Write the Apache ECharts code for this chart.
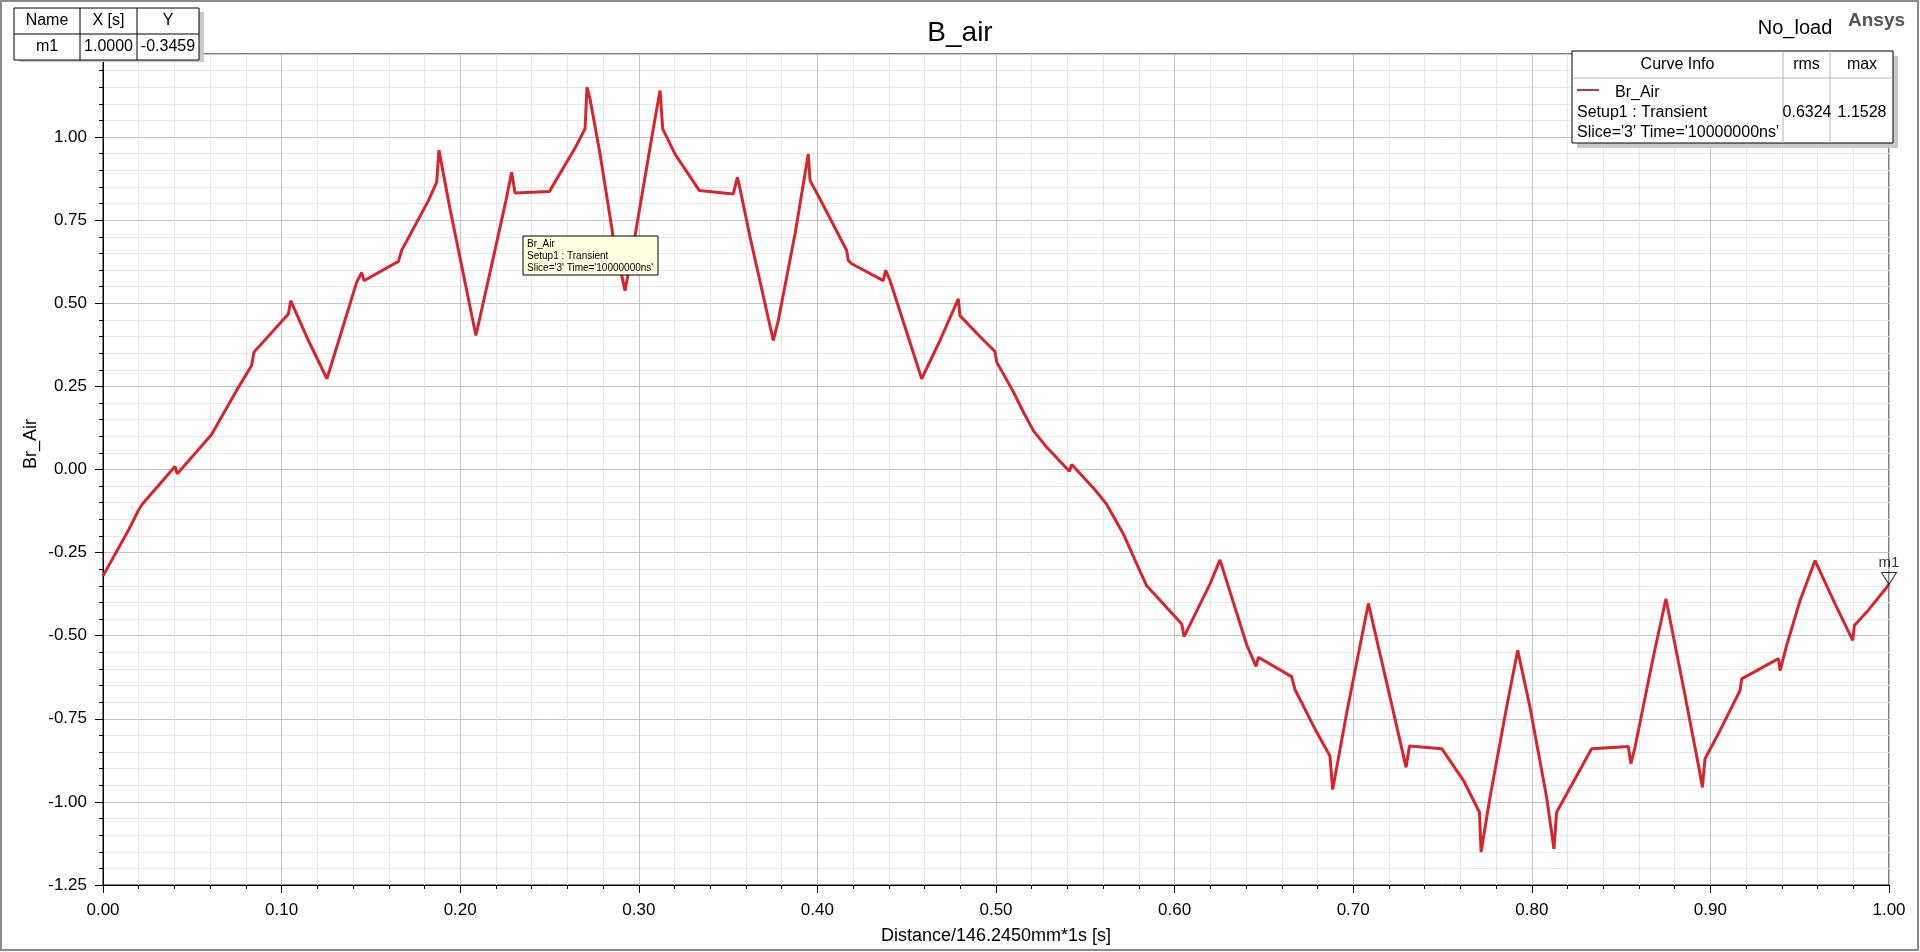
<!DOCTYPE html>
<html>
<head>
<meta charset="utf-8">
<title>B_air</title>
<script src="https://cdn.jsdelivr.net/npm/echarts@6/dist/echarts.min.js"></script>
<style>
  html, body { margin: 0; padding: 0; background: #fff; }
  #chart { width: 1920px; height: 952px; }
</style>
</head>
<body>
<div id="chart"></div>
<script>
// Br_Air curve
const distX = [0, 0.0147, 0.0203, 0.0222, 0.0403, 0.0416, 0.0608, 0.0748, 0.0832, 0.0845, 0.0879,
  0.1038, 0.1051, 0.1150, 0.1254, 0.1420, 0.1448, 0.1461, 0.1654, 0.1672, 0.1822, 0.1868, 0.1881,
  0.1943, 0.2088, 0.2186, 0.2256, 0.2288, 0.2307, 0.2499, 0.2643, 0.2699, 0.2710, 0.2727, 0.2783,
  0.2857, 0.2923, 0.2979, 0.3081, 0.3119, 0.3134, 0.3203, 0.3339, 0.3529, 0.3552, 0.3567, 0.3623,
  0.3753, 0.3781, 0.3875, 0.3949, 0.3959, 0.4024, 0.4164, 0.4173, 0.4192, 0.4369, 0.4382, 0.4407,
  0.4584, 0.4686, 0.4789, 0.4798, 0.4910, 0.4994, 0.5004, 0.5097, 0.5153, 0.5209, 0.5284, 0.5411,
  0.5424, 0.5554, 0.5620, 0.5713, 0.5806, 0.5844, 0.6040, 0.6053, 0.6198, 0.6254, 0.6404, 0.6456,
  0.6469, 0.6655, 0.6674, 0.6795, 0.6870, 0.6885, 0.6963, 0.7085, 0.7225, 0.7296, 0.7315, 0.7496,
  0.7617, 0.7707, 0.7716, 0.7766, 0.7859, 0.7921, 0.7990, 0.8083, 0.8124, 0.8139, 0.8195, 0.8335,
  0.8540, 0.8555, 0.8578, 0.8680, 0.8751, 0.8849, 0.8942, 0.8955, 0.8970, 0.9054, 0.9166, 0.9175,
  0.9381, 0.9390, 0.9427, 0.9502, 0.9586, 0.9698, 0.9797, 0.9806, 0.9875, 1.0];
const brAir = [-0.320, -0.178, -0.118, -0.103, 0.009, -0.013, 0.105, 0.238, 0.313, 0.353, 0.373,
  0.468, 0.508, 0.388, 0.273, 0.563, 0.593, 0.568, 0.626, 0.659, 0.809, 0.864, 0.961,
  0.784, 0.403, 0.639, 0.809, 0.894, 0.832, 0.836, 0.967, 1.025, 1.150, 1.115, 0.949,
  0.699, 0.538, 0.704, 1.025, 1.140, 1.025, 0.949, 0.839, 0.829, 0.879, 0.844, 0.699,
  0.388, 0.448, 0.709, 0.949, 0.869, 0.804, 0.659, 0.629, 0.619, 0.568, 0.599, 0.568,
  0.273, 0.388, 0.513, 0.463, 0.400, 0.355, 0.323, 0.234, 0.173, 0.117, 0.067, -0.005,
  0.015, -0.061, -0.105, -0.194, -0.306, -0.350, -0.465, -0.503, -0.345, -0.272, -0.528, -0.592,
  -0.565, -0.623, -0.662, -0.790, -0.862, -0.963, -0.734, -0.403, -0.729, -0.896, -0.832, -0.840,
  -0.935, -1.031, -1.151, -0.986, -0.715, -0.544, -0.715, -0.986, -1.141, -1.031, -0.976, -0.840,
  -0.833, -0.885, -0.835, -0.565, -0.389, -0.655, -0.915, -0.956, -0.870, -0.785, -0.665, -0.630,
  -0.569, -0.605, -0.529, -0.394, -0.274, -0.404, -0.514, -0.469, -0.429, -0.3459];

// marker m1
const markerX = [1.0];
const markerY = [-0.3459];

// curve info values
const rmsVal = '0.6324';
const maxVal = '1.1528';

const font = '"Liberation Sans", Arial, sans-serif';

const chart = echarts.init(document.getElementById('chart'));

function txt(x, y, text, size, align, extra) {
    return Object.assign({
        type: 'text', x: x, y: y, z: 100,
        style: {text: text, fontSize: size, fontFamily: font, fill: '#000', align: align || 'left', verticalAlign: 'middle'}
    }, extra || {});
}
function line(x1, y1, x2, y2, color, w) {
    return {type: 'line', z: 100, shape: {x1: x1, y1: y1, x2: x2, y2: y2}, style: {stroke: color, lineWidth: w || 1}};
}
function box(x, y, w, h, fill, stroke) {
    return {type: 'rect', z: 100, shape: {x: x, y: y, width: w, height: h}, style: {fill: fill, stroke: stroke || null, lineWidth: 1}};
}

const option = {
    animation: false,
    backgroundColor: '#fff',
    title: {
        text: 'B_air',
        left: 'center',
        top: 14,
        textStyle: {fontSize: 28, fontWeight: 'normal', color: '#000', fontFamily: font}
    },
    grid: {
        left: 103, right: 31, top: 54, bottom: 67,
        show: true, borderColor: '#000', borderWidth: 1
    },
    xAxis: {
        type: 'value',
        min: 0, max: 1, interval: 0.1,
        name: 'Distance/146.2450mm*1s [s]',
        nameLocation: 'middle',
        nameGap: 42,
        nameTextStyle: {fontSize: 18, color: '#000', fontFamily: font},
        axisLine: {onZero: false, lineStyle: {color: '#000'}},
        axisTick: {length: 8, lineStyle: {color: '#000'}},
        minorTick: {show: true, splitNumber: 5, length: 4, lineStyle: {color: '#000'}},
        axisLabel: {fontSize: 17, color: '#000', fontFamily: font, margin: 17, formatter: v => v.toFixed(2)},
        splitLine: {lineStyle: {color: '#c4c4c4'}},
        minorSplitLine: {show: true, lineStyle: {color: '#e6e6e6'}}
    },
    yAxis: {
        type: 'value',
        min: -1.25, max: 1.25, interval: 0.25,
        axisLine: {show: true, onZero: false, lineStyle: {color: '#000'}},
        axisTick: {show: true, length: 8, lineStyle: {color: '#000'}},
        minorTick: {show: true, splitNumber: 5, length: 4, lineStyle: {color: '#000'}},
        axisLabel: {fontSize: 17, color: '#000', fontFamily: font, margin: 16, formatter: v => v.toFixed(2)},
        splitLine: {lineStyle: {color: '#c4c4c4'}},
        minorSplitLine: {show: true, lineStyle: {color: '#e6e6e6'}}
    },
    series: [
        {
            name: 'Br_Air',
            type: 'line',
            data: distX.map((x, i) => [x, brAir[i]]),
            showSymbol: false,
            symbol: 'none',
            lineStyle: {color: '#d7252d', width: 3},
            z: 3
        },
        {
            name: 'm1',
            type: 'scatter',
            data: markerX.map((x, i) => [x, markerY[i]]),
            symbol: 'triangle',
            symbolRotate: 180,
            symbolSize: [15, 12],
            symbolOffset: [0, -6],
            clip: false,
            itemStyle: {color: 'rgba(255,255,255,0)', borderColor: '#000', borderWidth: 1},
            label: {show: true, position: 'top', distance: 2, formatter: 'm1', fontSize: 15, color: '#000', fontFamily: font},
            z: 5
        }
    ],
    graphic: [
        // outer frame
        {type: 'rect', z: 100, shape: {x: 1, y: 1, width: 1917, height: 949}, style: {fill: null, stroke: '#8a8a8a', lineWidth: 2}},

        // marker table, top left
        box(19, 12, 185, 50, '#c8c8c8'),
        box(14, 8, 185, 52, '#fff', '#000'),
        line(80, 8, 80, 60, '#000'),
        line(137, 8, 137, 60, '#000'),
        line(14, 34, 199, 34, '#000'),
        txt(47, 21, 'Name', 16, 'center'),
        txt(108.5, 21, 'X [s]', 16, 'center'),
        txt(168, 21, 'Y', 16, 'center'),
        txt(47, 47, 'm1', 16, 'center'),
        txt(108.5, 47, '1.0000', 16, 'center'),
        txt(168, 47, '-0.3459', 16, 'center'),

        // labels top right
        txt(1795, 28, 'No_load', 20, 'center'),
        {type: 'text', x: 1848, y: 21, z: 100, style: {text: 'Ansys', fontSize: 19, fontWeight: 'bold', fontFamily: font, fill: '#555', align: 'left', verticalAlign: 'middle'}},

        // curve info box
        box(1577, 56, 321, 92, '#c8c8c8'),
        box(1572, 51, 321, 92, '#fff', '#000'),
        line(1572, 78, 1893, 78, '#b4b4b4'),
        line(1783, 51, 1783, 143, '#b4b4b4'),
        line(1830, 51, 1830, 143, '#b4b4b4'),
        txt(1677.5, 65, 'Curve Info', 16, 'center'),
        txt(1806.5, 65, 'rms', 16, 'center'),
        txt(1862, 65, 'max', 16, 'center'),
        line(1577, 90, 1599, 90, '#b53a3a', 2),
        txt(1615, 93, 'Br_Air', 16),
        txt(1577, 113, 'Setup1 : Transient', 16),
        txt(1577, 133, "Slice='3' Time='10000000ns'", 16),
        txt(1807, 113, rmsVal, 16, 'center'),
        txt(1862, 113, maxVal, 16, 'center'),

        // curve annotation
        box(523, 236, 135, 39, '#ffffe1', '#000'),
        txt(527, 244, 'Br_Air', 10),
        txt(527, 256, 'Setup1 : Transient', 10),
        txt(527, 268.5, "Slice='3' Time='10000000ns'", 10),

        // y axis name
        txt(31, 444, 'Br_Air', 18, 'center', {rotation: Math.PI / 2})
    ]
};

chart.setOption(option);
</script>
</body>
</html>
